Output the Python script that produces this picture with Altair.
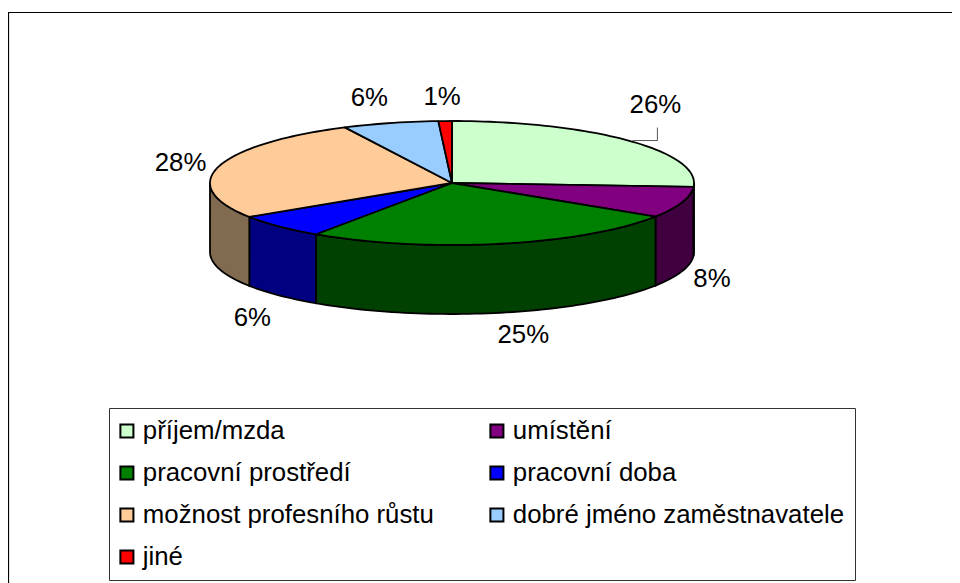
import math
import altair as alt

# --- values ---
categories = ["příjem/mzda", "umístění", "pracovní prostředí", "pracovní doba",
              "možnost profesního růstu", "dobré jméno zaměstnavatele", "jiné"]
shares = [26, 8.1, 25.4, 6.3, 26.9, 6.4, 0.9]
pct_labels = ["26%", "8%", "25%", "6%", "28%", "6%", "1%"]
top_colors = ["#CCFFCC", "#800080", "#008000", "#0000FF", "#FFCC99", "#99CCFF", "#FF0000"]
side_colors = ["#668066", "#400040", "#004000", "#000080", "#806A50", "#4D6680", "#800000"]

# --- layout ---
CX, CY, RX, RY, DEPTH = 452, 183, 242, 62, 69
label_offsets = [(27, -36), (30, 77), (23, 91), (-27, 92), (-38, -4), (-21, -25), (-3, -24)]
FONT = "Liberation Sans"
FS = 25.8


def rim(a, dy=0):
    r = math.radians(a)
    return [RX * math.sin(r), -RY * math.cos(r) + dy]


total = sum(shares)
edges = [0]
for s in shares:
    edges.append(edges[-1] + s / total * 360)

top_feats, side_feats, label_rows = [], [], []
for i, name in enumerate(categories):
    a0, a1 = edges[i], edges[i + 1]
    n = max(2, int((a1 - a0) / 1.5))
    arc = [rim(a0 + (a1 - a0) * k / n) for k in range(n + 1)]
    ring = [[0, 0]] + arc + [[0, 0]]
    top_feats.append({"type": "Feature", "properties": {"name": name},
                      "geometry": {"type": "Polygon", "coordinates": [ring]}})
    b0, b1 = max(a0, 90), min(a1, 270)
    if b1 > b0:
        m = max(2, int((b1 - b0) / 1.5))
        upper = [rim(b0 + (b1 - b0) * k / m) for k in range(m + 1)]
        lower = [rim(b0 + (b1 - b0) * k / m, DEPTH) for k in range(m, -1, -1)]
        side_feats.append({"type": "Feature", "properties": {"shade": side_colors[i]},
                           "geometry": {"type": "Polygon",
                                        "coordinates": [upper + lower + [upper[0]]]}})
    mx, my = rim((a0 + a1) / 2)
    ox, oy = label_offsets[i]
    label_rows.append({"lon": mx + ox, "lat": my + oy, "text": pct_labels[i]})

mx, my = rim((edges[0] + edges[1]) / 2)
leader = [{"type": "Feature", "properties": {},
           "geometry": {"type": "LineString",
                        "coordinates": [[mx + 4, my], [mx + 29, my], [mx + 29, my - 13]]}}]
frame = [{"type": "Feature", "properties": {},
          "geometry": {"type": "LineString",
                       "coordinates": [[8.5 - CX, 583 - CY], [8.5 - CX, 12.5 - CY], [960 - CX, 12.5 - CY]]}}]


def geo(features):
    return alt.InlineData(values={"type": "FeatureCollection", "features": features},
                          format=alt.DataFormat(property="features", type="json"))


proj = dict(type="identity", scale=1, translate=[CX - 8, CY - 12])

frame_layer = (alt.Chart(geo(frame))
               .mark_geoshape(filled=False, stroke="black", strokeWidth=1.2)
               .project(**proj))

sides = (alt.Chart(geo(side_feats))
         .mark_geoshape(stroke="black", strokeWidth=1.8)
         .encode(color=alt.Color("properties.shade:N", scale=None))
         .project(**proj))

tops = (alt.Chart(geo(top_feats))
        .mark_geoshape(stroke="black", strokeWidth=1.8, strokeJoin="round")
        .encode(color=alt.Color(
            "properties.name:N",
            scale=alt.Scale(domain=categories, range=top_colors),
            legend=alt.Legend(
                title=None, orient="none", legendX=101, legendY=396, columns=2,
                direction="horizontal", gridAlign="each",
                columnPadding=52, rowPadding=15, padding=10,
                strokeColor="#333333", fillColor="white",
                symbolType="square", symbolSize=170, symbolStrokeColor="black",
                symbolStrokeWidth=2, symbolOpacity=1, symbolOffset=-5, labelFont=FONT, labelFontSize=FS,
                labelColor="black", labelLimit=500, labelOffset=3,
            )))
        .project(**proj))

leader_layer = (alt.Chart(geo(leader))
                .mark_geoshape(filled=False, stroke="#555555", strokeWidth=1)
                .project(**proj))

labels = (alt.Chart(alt.Data(values=label_rows))
          .mark_text(font=FONT, fontSize=FS, color="black", align="center", baseline="middle")
          .encode(longitude="lon:Q", latitude="lat:Q", text="text:N")
          .project(**proj))

chart = (alt.layer(frame_layer, sides, tops, leader_layer, labels)
         .properties(width=944, height=571,
                     padding={"left": 0, "top": 4, "right": 0, "bottom": 0},
                     autosize=alt.AutoSizeParams(type="none"))
         .configure_view(stroke=None))

chart.save("out.html", embed_options={"renderer": "svg", "actions": False})
